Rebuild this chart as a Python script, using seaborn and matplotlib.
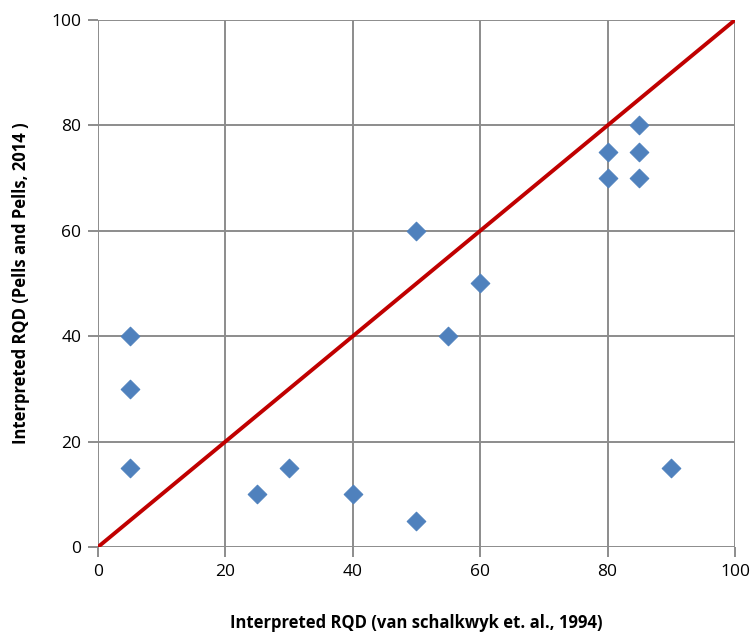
import matplotlib
matplotlib.use("Agg")
import matplotlib.pyplot as plt
import seaborn as sns
import pandas as pd

sns.set_theme(style="whitegrid")
plt.rcParams['font.family'] = ['Open Sans', 'DejaVu Sans']

# Interpreted RQD values
van_schalkwyk = [5, 5, 5, 25, 30, 40, 50, 50, 55, 60, 80, 80, 85, 85, 85, 90]
pells = [40, 30, 15, 10, 15, 10, 5, 60, 40, 50, 75, 70, 80, 75, 70, 15]
line_x = [0, 100]
line_y = [0, 100]

df = pd.DataFrame({"x": van_schalkwyk, "y": pells})

fig = plt.figure(figsize=(7.52, 6.32), dpi=100)
ax = fig.add_axes([0.1303, 0.1345, 0.8471, 0.8339])

sns.scatterplot(data=df, x="x", y="y", ax=ax, marker="D", s=90,
                color="#4F81BD", edgecolor="#4F81BD", zorder=3)
sns.lineplot(x=line_x, y=line_y, ax=ax, color="#C00000", linewidth=2.8, zorder=4)

ax.set_xlim(0, 100)
ax.set_ylim(0, 100)
ax.set_xticks(range(0, 101, 20))
ax.set_yticks(range(0, 101, 20))
ax.grid(True, color="#8C8C8C", linewidth=1.4)
for s in ax.spines.values():
    s.set_visible(False)
ax.tick_params(axis="both", length=7, width=1.4, color="#8C8C8C",
               labelsize=12.5, labelcolor="black", pad=5, direction="out")
ax.tick_params(bottom=True, left=True)
ax.set_xlabel("Interpreted RQD (van schalkwyk et. al., 1994)",
              fontsize=12, fontweight="bold", color="black", labelpad=25)
ax.set_ylabel("Interpreted RQD (Pells and Pells, 2014 )",
              fontsize=12, fontweight="bold", color="black", labelpad=15)

fig.savefig("out.png", dpi=100)
